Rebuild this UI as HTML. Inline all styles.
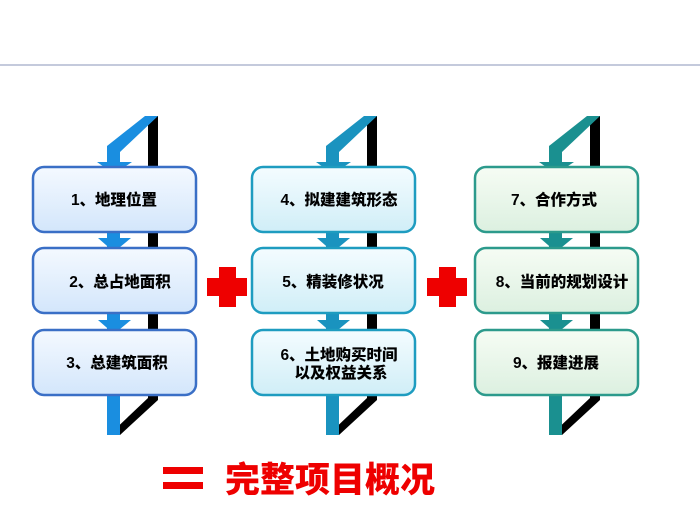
<!DOCTYPE html>
<html><head><meta charset="utf-8"><style>
html,body{margin:0;padding:0;background:#fff;}
svg{display:block}
text{font-family:"Liberation Sans","Noto Sans CJK SC",sans-serif;font-weight:900;}
</style></head><body>
<svg width="700" height="525" viewBox="0 0 700 525" xmlns="http://www.w3.org/2000/svg">
<defs>
<linearGradient id="b1" x1="0" y1="0" x2="0" y2="1"><stop offset="0" stop-color="#f4f9ff"/><stop offset="1" stop-color="#d3e6fb"/></linearGradient>
<linearGradient id="b2" x1="0" y1="0" x2="0" y2="1"><stop offset="0" stop-color="#f4fcff"/><stop offset="1" stop-color="#d0eef7"/></linearGradient>
<linearGradient id="b3" x1="0" y1="0" x2="0" y2="1"><stop offset="0" stop-color="#f6fcf4"/><stop offset="1" stop-color="#dcf0e0"/></linearGradient>
</defs>
<line x1="0" y1="65" x2="700" y2="65" stroke="#8a96b8" stroke-width="1"/>

<g>
  <polygon points="148,116 158,116 158,400 120,435 109,435 148,398" fill="#000"/>
  <polygon points="145,116 158,116 120,152 120,162 132,162 114,174 97,162 107,162 107,146" fill="#1a8ee0"/>
  <rect x="107" y="230" width="13" height="205" fill="#1a8ee0"/>
  <polygon points="98,238 131,238 114,252" fill="#1a8ee0"/>
  <polygon points="98,320 131,320 114,334" fill="#1a8ee0"/>
  <rect x="33" y="167" width="163" height="65" rx="11" fill="url(#b1)" stroke="#3a6fc6" stroke-width="2.5"/>
  <rect x="33" y="248" width="163" height="65" rx="11" fill="url(#b1)" stroke="#3a6fc6" stroke-width="2.5"/>
  <rect x="33" y="330" width="163" height="65" rx="11" fill="url(#b1)" stroke="#3a6fc6" stroke-width="2.5"/>
  <text x="114" y="205" font-size="15.5" text-anchor="middle">1、地理位置</text>
  <text x="120" y="287" font-size="15.5" text-anchor="middle">2、总占地面积</text>
  <text x="117" y="368" font-size="15.5" text-anchor="middle">3、总建筑面积</text>
</g>
<g transform="translate(219,0)">
  <polygon points="148,116 158,116 158,400 120,435 109,435 148,398" fill="#000"/>
  <polygon points="145,116 158,116 120,152 120,162 132,162 114,174 97,162 107,162 107,146" fill="#1a93bf"/>
  <rect x="107" y="230" width="13" height="205" fill="#1a93bf"/>
  <polygon points="98,238 131,238 114,252" fill="#1a93bf"/>
  <polygon points="98,320 131,320 114,334" fill="#1a93bf"/>
  <rect x="33" y="167" width="163" height="65" rx="11" fill="url(#b2)" stroke="#1e9cc0" stroke-width="2.5"/>
  <rect x="33" y="248" width="163" height="65" rx="11" fill="url(#b2)" stroke="#1e9cc0" stroke-width="2.5"/>
  <rect x="33" y="330" width="163" height="65" rx="11" fill="url(#b2)" stroke="#1e9cc0" stroke-width="2.5"/>
  <text x="120" y="205" font-size="15.5" text-anchor="middle">4、拟建建筑形态</text>
  <text x="114" y="287" font-size="15.5" text-anchor="middle">5、精装修状况</text>
  <text x="120" y="360" font-size="15.5" text-anchor="middle">6、土地购买时间</text>
  <text x="122" y="378" font-size="15.5" text-anchor="middle">以及权益关系</text>
</g>
<g transform="translate(442,0)">
  <polygon points="148,116 158,116 158,400 120,435 109,435 148,398" fill="#000"/>
  <polygon points="145,116 158,116 120,152 120,162 132,162 114,174 97,162 107,162 107,146" fill="#1a9090"/>
  <rect x="107" y="230" width="13" height="205" fill="#1a9090"/>
  <polygon points="98,238 131,238 114,252" fill="#1a9090"/>
  <polygon points="98,320 131,320 114,334" fill="#1a9090"/>
  <rect x="33" y="167" width="163" height="65" rx="11" fill="url(#b3)" stroke="#2c9a8c" stroke-width="2.5"/>
  <rect x="33" y="248" width="163" height="65" rx="11" fill="url(#b3)" stroke="#2c9a8c" stroke-width="2.5"/>
  <rect x="33" y="330" width="163" height="65" rx="11" fill="url(#b3)" stroke="#2c9a8c" stroke-width="2.5"/>
  <text x="112" y="205" font-size="15.5" text-anchor="middle">7、合作方式</text>
  <text x="120" y="287" font-size="15.5" text-anchor="middle">8、当前的规划设计</text>
  <text x="114" y="368" font-size="15.5" text-anchor="middle">9、报建进展</text>
</g>

<g fill="#ee0000">
  <rect x="219" y="267" width="17" height="40"/><rect x="207" y="278" width="40" height="18"/>
  <rect x="439" y="267" width="17" height="40"/><rect x="427" y="278" width="40" height="18"/>
  <rect x="163" y="467" width="40" height="7"/><rect x="163" y="482" width="40" height="7"/>
</g>
<text x="225" y="492" font-size="35" fill="#ee0000">完整项目概况</text>
</svg>
</body></html>
